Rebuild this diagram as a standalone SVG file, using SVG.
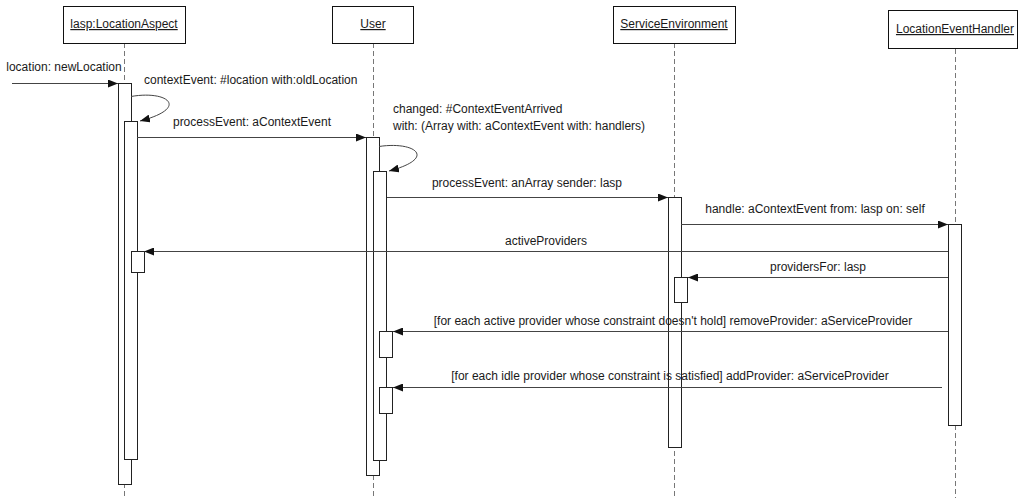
<svg xmlns="http://www.w3.org/2000/svg" width="1020" height="498" viewBox="0 0 1020 498">
  <style>
    text { font-family: "Liberation Sans", Arial, sans-serif; font-size: 12px; fill: #1a1a1a; }
    .head { text-anchor: middle; text-decoration: underline; }
    .mid { text-anchor: middle; }
    .box { fill: #fff; stroke: #111; stroke-width: 1; }
    .life { stroke: #777; stroke-width: 1; stroke-dasharray: 5 3; fill: none; }
    .act { fill: #fff; stroke: #222; stroke-width: 1; }
    .msg { stroke: #444; stroke-width: 1; fill: none; marker-end: url(#arrow); }
  </style>
  <defs>
    <marker id="arrow" markerUnits="userSpaceOnUse" markerWidth="10" markerHeight="8" refX="10" refY="4" orient="auto">
      <path d="M0,0 L10,4 L0,8 z" fill="#111"/>
    </marker>
  </defs>
  <rect width="1020" height="498" fill="#fff"/>

  <!-- lifelines -->
  <g id="lifelines">
    <line class="life" x1="124.5" y1="43" x2="124.5" y2="498"/>
    <line class="life" x1="373.5" y1="43" x2="373.5" y2="498"/>
    <line class="life" x1="674.5" y1="43" x2="674.5" y2="498"/>
    <line class="life" x1="955.5" y1="49" x2="955.5" y2="498"/>
  </g>

  <!-- participants -->
  <g id="lasp">
    <rect class="box" x="63.5" y="6.5" width="122" height="37"/>
    <text class="head" x="124" y="28">lasp:LocationAspect</text>
    <rect class="act" x="118.5" y="83.5" width="13" height="401"/>
    <rect class="act" x="124.5" y="121.5" width="13" height="338"/>
    <rect class="act" x="131.5" y="251.5" width="13" height="21"/>
  </g>
  <g id="user">
    <rect class="box" x="332.5" y="6.5" width="81" height="37"/>
    <text class="head" x="373" y="28">User</text>
    <rect class="act" x="366.5" y="137.5" width="13" height="338"/>
    <rect class="act" x="373.5" y="171.5" width="13" height="289"/>
    <rect class="act" x="379.5" y="331.5" width="13" height="26"/>
    <rect class="act" x="379.5" y="387.5" width="13" height="26"/>
  </g>
  <g id="service-environment">
    <rect class="box" x="613.5" y="6.5" width="122" height="37"/>
    <text class="head" x="674" y="28">ServiceEnvironment</text>
    <rect class="act" x="668.5" y="197.5" width="13" height="250"/>
    <rect class="act" x="674.5" y="277.5" width="13" height="25"/>
  </g>
  <g id="location-event-handler">
    <rect class="box" x="888.5" y="10.5" width="129" height="38"/>
    <text class="head" x="955" y="33">LocationEventHandler</text>
    <rect class="act" x="948.5" y="224.5" width="13" height="201"/>
  </g>

  <!-- messages -->
  <g id="connectors">
    <line class="msg" x1="12" y1="83.5" x2="118" y2="83.5"/>
    <path class="msg" d="M131,96.5 C168,90 190,108 140,121"/>
    <line class="msg" x1="137" y1="137.5" x2="366" y2="137.5"/>
    <path class="msg" d="M379,146.5 C415,141 438,158 389,171"/>
    <line class="msg" x1="387" y1="197.5" x2="668" y2="197.5"/>
    <line class="msg" x1="681" y1="224.5" x2="948" y2="224.5"/>
    <line class="msg" x1="948" y1="251.5" x2="144" y2="251.5"/>
    <line class="msg" x1="948" y1="277.5" x2="688" y2="277.5"/>
    <line class="msg" x1="948" y1="331.5" x2="393" y2="331.5"/>
    <line class="msg" x1="942" y1="387.5" x2="393" y2="387.5"/>
  </g>

  <!-- message labels -->
  <g id="labels">
    <text class="mid" x="64" y="71">location: newLocation</text>
    <text x="144" y="84">contextEvent: #location with:oldLocation</text>
    <text class="mid" x="252" y="126">processEvent: aContextEvent</text>
    <text x="393" y="113">changed: #ContextEventArrived</text>
    <text x="393" y="130">with: (Array with: aContextEvent with: handlers)</text>
    <text class="mid" x="527" y="187">processEvent: anArray sender: lasp</text>
    <text class="mid" x="815" y="213">handle: aContextEvent from: lasp on: self</text>
    <text class="mid" x="546" y="245">activeProviders</text>
    <text class="mid" x="818" y="271">providersFor: lasp</text>
    <text class="mid" x="673" y="325">[for each active provider whose constraint doesn't hold] removeProvider: aServiceProvider</text>
    <text class="mid" x="670" y="380">[for each idle provider whose constraint is satisfied] addProvider: aServiceProvider</text>
  </g>
</svg>
